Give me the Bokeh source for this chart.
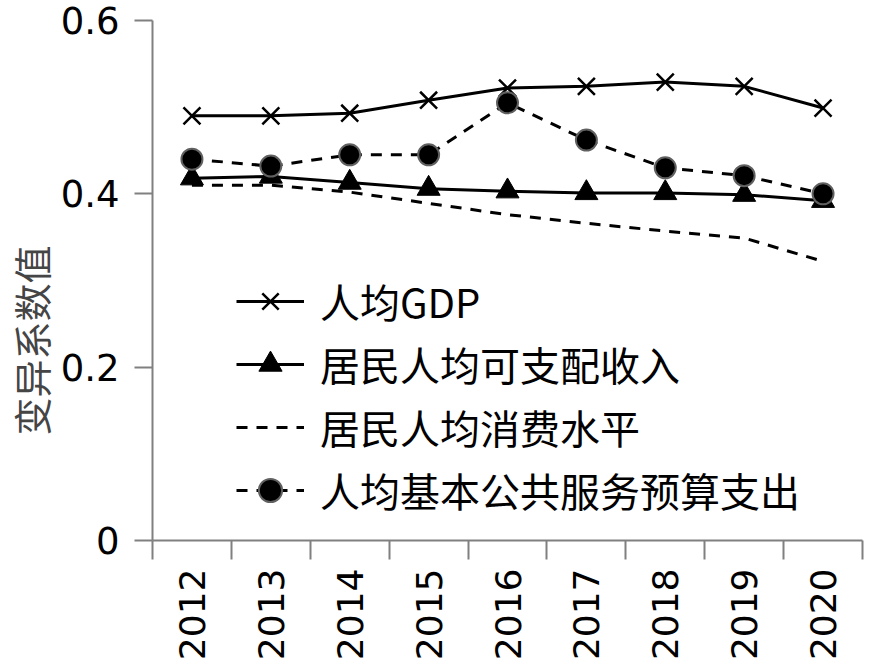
import math
from bokeh.plotting import figure
from bokeh.models import (Range1d, FixedTicker, Legend, LegendItem, LinearAxis, Title)
from bokeh.embed import file_html
from bokeh.resources import INLINE

years = ["2012", "2013", "2014", "2015", "2016", "2017", "2018", "2019", "2020"]
gdp = [0.490, 0.490, 0.493, 0.508, 0.522, 0.524, 0.529, 0.524, 0.499]
income = [0.418, 0.420, 0.413, 0.406, 0.403, 0.401, 0.401, 0.399, 0.392]
consumption = [0.410, 0.410, 0.402, 0.389, 0.376, 0.366, 0.357, 0.349, 0.322]
public_service = [0.440, 0.432, 0.445, 0.445, 0.505, 0.462, 0.430, 0.421, 0.400]
y_ticks = [0, 0.2, 0.4, 0.6]
y_tick_labels = {0: "0", 0.2: "0.2", 0.4: "0.4", 0.6: "0.6"}
series_names = ["人均GDP", "居民人均可支配收入", "居民人均消费水平", "人均基本公共服务预算支出"]
y_title = "变异系数值"

x = [i + 0.5 for i in range(len(years))]

p = figure(width=870, height=671, output_backend="svg", toolbar_location=None,
           x_range=Range1d(0, len(years)), y_range=Range1d(0, 0.6),
           min_border_left=150, min_border_right=8, min_border_top=20,
           min_border_bottom=131, x_axis_type=None, y_axis_type=None)
p.outline_line_color = None
p.grid.visible = False
p.background_fill_color = "white"
p.border_fill_color = "white"

AX = "#808080"
num_font = "DejaVu Sans"
cjk = "Noto Sans CJK SC"

# y axis
ya = LinearAxis(ticker=FixedTicker(ticks=y_ticks))
ya.major_label_overrides = y_tick_labels
ya.axis_line_color = AX
ya.axis_line_width = 2
ya.major_tick_line_color = AX
ya.major_tick_line_width = 2
ya.major_tick_in = 0
ya.major_tick_out = 18
ya.minor_tick_line_color = None
ya.major_label_text_font = num_font
ya.major_label_text_font_size = "37px"
ya.major_label_text_color = "black"
ya.major_label_standoff = 15
p.add_layout(ya, "left")

# y axis title, outside the axis, starting near the bottom as in the reference
p.add_layout(Title(text=y_title, align="left", offset=105, standoff=0,
                   text_font=cjk, text_font_size="38px", text_font_style="normal",
                   text_color="#454545"), "left")

# x axis: labels at category centres, ticks at boundaries (minor ticks)
xa = LinearAxis(ticker=FixedTicker(ticks=x, minor_ticks=list(range(len(years) + 1))))
xa.major_label_overrides = {xi: y for xi, y in zip(x, years)}
xa.axis_line_color = AX
xa.axis_line_width = 2
xa.major_tick_line_color = None
xa.major_tick_in = 0
xa.major_tick_out = 19
xa.minor_tick_line_color = AX
xa.minor_tick_line_width = 2
xa.minor_tick_in = 0
xa.minor_tick_out = 19
xa.major_label_orientation = math.pi / 2
xa.major_label_text_font = num_font
xa.major_label_text_font_size = "36px"
xa.major_label_text_color = "black"
xa.major_label_standoff = 9
p.add_layout(xa, "below")

lw = 3
dash = "11 9"
r1l = p.line(x, gdp, line_color="black", line_width=lw)
r1m = p.scatter(x, gdp, marker="x", size=24, line_color="black", line_width=2.5)

r2l = p.line(x, income, line_color="black", line_width=lw)
r2m = p.scatter(x, income, marker="triangle", size=23, fill_color="black", line_color="black")

r3l = p.line(x, consumption, line_color="black", line_width=lw, line_dash=dash)

r4l = p.line(x, public_service, line_color="black", line_width=lw, line_dash=dash)
r4m = p.scatter(x, public_service, marker="circle", size=21, fill_color="black",
                line_color="#606060", line_width=2)

legend = Legend(items=[
    LegendItem(label=series_names[0], renderers=[r1l, r1m]),
    LegendItem(label=series_names[1], renderers=[r2l, r2m]),
    LegendItem(label=series_names[2], renderers=[r3l]),
    LegendItem(label=series_names[3], renderers=[r4l, r4m]),
], location=(84, 21))
legend.label_text_font = cjk
legend.label_text_font_size = "40px"
legend.label_text_color = "black"
legend.glyph_width = 68
legend.glyph_height = 58
legend.label_height = 58
legend.spacing = 5
legend.label_standoff = 16
legend.padding = 0
legend.margin = 0
legend.border_line_color = None
legend.background_fill_alpha = 0
p.add_layout(legend, "center")

open("out.html", "w").write(file_html(p, INLINE))
